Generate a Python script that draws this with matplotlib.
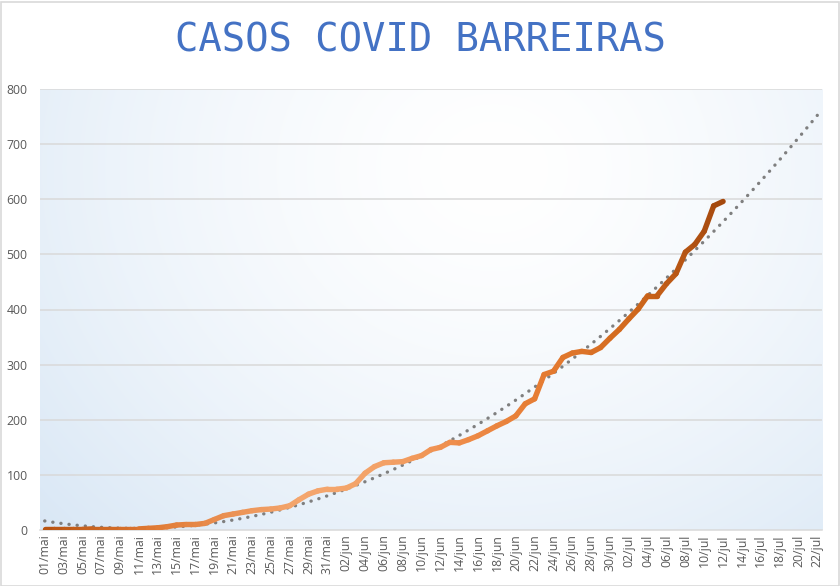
import matplotlib
matplotlib.use("Agg")
import matplotlib.pyplot as plt
import numpy as np
from matplotlib.collections import LineCollection
from matplotlib.colors import LinearSegmentedColormap
from matplotlib.patches import Rectangle

# ---- data ----
months = ["mai"] * 31 + ["jun"] * 30 + ["jul"] * 22
days = list(range(1, 32)) + list(range(1, 31)) + list(range(1, 23))
dates = [f"{d:02d}/{m}" for d, m in zip(days, months)]

cases = [1, 1, 1, 1, 1, 2, 2, 2, 2, 2, 2, 3, 4, 6, 9, 10, 10, 12, 19, 26,
         29, 32, 35, 37, 38, 40, 44, 55, 65, 71, 74,
         74, 76, 84, 103, 115, 122, 123, 124, 130, 135, 146, 150, 159, 158,
         164, 171, 180, 189, 197, 207, 229, 238, 282, 288, 313, 321, 324,
         322, 331, 348,
         364, 383, 401, 425, 425, 447, 465, 504, 518, 542, 588, 596]

title = "CASOS COVID BARREIRAS"
yticks = [0, 100, 200, 300, 400, 500, 600, 700, 800]

# ---- figure ----
W, H = 840, 586
fig = plt.figure(figsize=(W / 100, H / 100), dpi=100)
fig.patch.set_facecolor("white")
fig.patches.append(Rectangle((0.5 / W, 0.5 / H), 1 - 2 / W, 1 - 2 / H,
                             transform=fig.transFigure, fill=False,
                             edgecolor="#D9D9D9", lw=1.2))

ax_l, ax_r, ax_t, ax_b = 40, 822, 89, 530
ax = fig.add_axes([ax_l / W, (H - ax_b) / H, (ax_r - ax_l) / W, (ax_b - ax_t) / H])

n_all = len(dates)
x_all = np.arange(n_all)
ax.set_xlim(-0.5, n_all - 0.5)
ax.set_ylim(0, 800)

# radial gradient background
gx, gy = np.meshgrid(np.linspace(0, 1, 400), np.linspace(0, 1, 300))
aspect = (ax_r - ax_l) / (ax_b - ax_t)
r = np.sqrt(((gx - 0.58) * aspect) ** 2 + ((gy - 0.82) * 1.15) ** 2) / 1.7
r = np.clip(r, 0, 1) ** 1.5
c0 = np.array([1.0, 1.0, 1.0])
c1 = np.array([0xCC, 0xDF, 0xF2]) / 255
img = c0[None, None, :] * (1 - r[..., None]) + c1[None, None, :] * r[..., None]
ax.imshow(img, extent=(-0.5, n_all - 0.5, 0, 800), origin="lower",
          aspect="auto", zorder=0, interpolation="bilinear")

# gridlines
for yv in yticks[1:]:
    ax.axhline(yv, color="#D9D9D9", lw=1.1, zorder=1)

# trendline (2nd order polynomial, forecast to end)
n = len(cases)
xi = np.arange(1, n + 1)
coef = np.polyfit(xi, cases, 2)
trend = np.polyval(coef, x_all + 1)
ax.plot(x_all, trend, linestyle=(0, (0.05, 2.4)), color="#7F7F7F", lw=2.4,
        dash_capstyle="round", zorder=3)

# gradient line
cmap = LinearSegmentedColormap.from_list("g", [
    (0.0, "#B8520F"), (0.16, "#E07A35"), (0.38, "#F4A66E"), (0.5, "#F3A268"),
    (0.62, "#EE8B48"), (0.75, "#E47A30"), (0.87, "#D0681C"), (1.0, "#A4480E")])
xs = np.arange(n)
pts = np.column_stack([xs, cases])
segs = np.stack([pts[:-1], pts[1:]], axis=1)
tcol = (xs[:-1] + 0.5) / (n - 1)
lc = LineCollection(segs, colors=cmap(tcol), linewidths=3.9, capstyle="round",
                    joinstyle="round", zorder=4)
ax.add_collection(lc)

for s in ["top", "right", "left"]:
    ax.spines[s].set_visible(False)
ax.spines["bottom"].set_color("#D9D9D9")
ax.spines["bottom"].set_linewidth(1.1)

ax.set_yticks(yticks)
ax.set_yticklabels([str(v) for v in yticks])
ax.set_xticks(x_all[::2])
ax.set_xticklabels(dates[::2], rotation=90)
ax.tick_params(axis="both", length=0, labelsize=8.8, labelcolor="#595959")
ax.tick_params(axis="y", pad=9)
ax.tick_params(axis="x", pad=3)
for lab in ax.get_xticklabels() + ax.get_yticklabels():
    lab.set_fontfamily("Open Sans")

fig.text(0.5, (H - 40) / H, title, ha="center", va="center",
         fontsize=28, color="#4472C4", family="DejaVu Sans Mono")

fig.savefig("out.png", dpi=100, facecolor="white")
